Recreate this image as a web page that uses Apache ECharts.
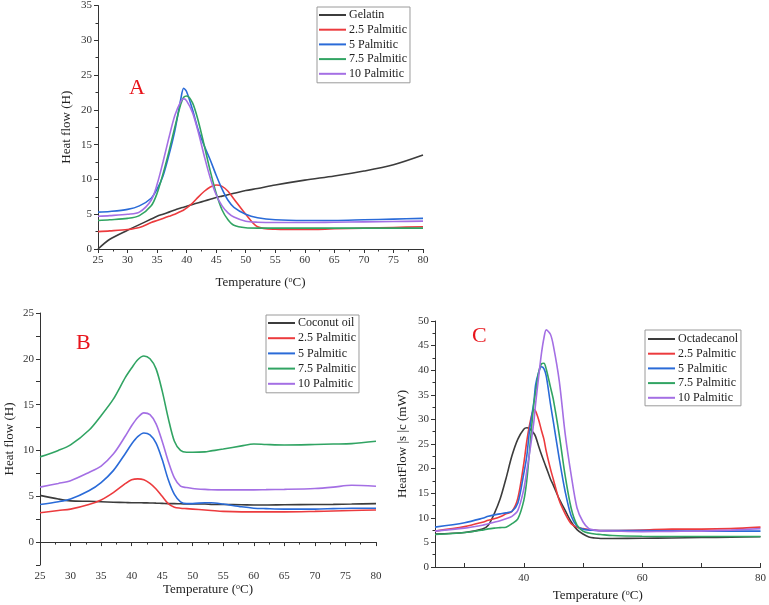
<!DOCTYPE html>
<html>
<head>
<meta charset="utf-8">
<script src="https://cdn.jsdelivr.net/npm/echarts@6/dist/echarts.min.js"></script>
<style>
  html, body { margin: 0; padding: 0; background: #fff; }
  #chart { width: 769px; height: 605px; }
</style>
</head>
<body>
<div id="chart"></div>
<script>
// ---- panel A : gelatin ----
const tA = [25, 27, 30, 32, 34, 35, 36, 37, 38, 39, 39.5, 40, 41, 42, 43, 44, 45, 46, 47, 48, 50, 52, 55, 60, 65, 70, 75, 80];
const gelatinA = [0, 1.4, 2.7, 3.5, 4.3, 4.7, 5.0, 5.3, 5.6, 5.9, 6.0, 6.15, 6.4, 6.65, 6.9, 7.15, 7.4, 7.6, 7.8, 8.0, 8.4, 8.7, 9.2, 9.9, 10.5, 11.2, 12.1, 13.5];
const p25A = [2.5, 2.6, 2.8, 3.1, 3.8, 4.1, 4.4, 4.7, 5.0, 5.4, 5.6, 5.9, 6.6, 7.5, 8.3, 8.9, 9.2, 9.0, 8.3, 7.2, 5.0, 3.2, 2.85, 2.8, 2.9, 3.0, 3.1, 3.2];
const p5A = [5.3, 5.4, 5.7, 6.2, 7.3, 8.6, 10.5, 13.5, 17.0, 21.5, 23.1, 22.6, 20.0, 17.0, 14.8, 12.8, 10.6, 8.6, 7.0, 6.0, 5.0, 4.5, 4.2, 4.1, 4.1, 4.2, 4.3, 4.4];
const p75A = [4.1, 4.2, 4.4, 4.8, 6.2, 8.0, 10.8, 14.0, 17.5, 20.8, 21.8, 22.0, 21.0, 18.3, 14.8, 11.2, 8.0, 5.6, 4.2, 3.4, 3.05, 3.0, 3.0, 3.0, 3.0, 3.0, 3.0, 3.0];
const p10A = [4.7, 4.8, 5.0, 5.3, 7.0, 9.3, 12.5, 16.0, 19.2, 21.2, 21.6, 21.3, 19.6, 16.7, 13.3, 10.2, 7.8, 6.2, 5.2, 4.6, 4.0, 3.85, 3.8, 3.8, 3.85, 3.9, 3.95, 4.0];

// ---- panel B : coconut oil ----
const tB = [25, 28, 30, 33, 35, 37, 39, 40, 41, 42, 43, 44, 45, 46, 47, 48, 49, 50, 52, 53, 55, 58, 60, 62, 65, 70, 73, 76, 80];
const coconutB = [5.1, 4.7, 4.5, 4.45, 4.4, 4.35, 4.32, 4.3, 4.3, 4.28, 4.27, 4.25, 4.23, 4.2, 4.2, 4.18, 4.17, 4.15, 4.15, 4.12, 4.1, 4.08, 4.05, 4.05, 4.08, 4.1, 4.12, 4.15, 4.2];
const p25B = [3.2, 3.45, 3.6, 4.1, 4.6, 5.4, 6.4, 6.8, 6.9, 6.8, 6.4, 5.8, 5.0, 4.2, 3.8, 3.7, 3.65, 3.6, 3.5, 3.45, 3.35, 3.3, 3.3, 3.3, 3.3, 3.35, 3.4, 3.45, 3.5];
const p5B = [4.1, 4.4, 4.7, 5.6, 6.5, 7.8, 9.7, 10.7, 11.5, 11.9, 11.7, 10.8, 9.0, 6.8, 5.2, 4.4, 4.2, 4.2, 4.3, 4.3, 4.15, 3.85, 3.7, 3.65, 3.6, 3.6, 3.65, 3.7, 3.7];
const p75B = [9.3, 10.0, 10.6, 12.2, 13.8, 15.6, 18.0, 19.0, 19.9, 20.3, 20.0, 18.9, 16.5, 13.5, 11.0, 10.0, 9.8, 9.8, 9.85, 9.95, 10.15, 10.5, 10.7, 10.65, 10.6, 10.65, 10.7, 10.75, 11.0];
const p10B = [6.0, 6.4, 6.7, 7.6, 8.3, 9.6, 11.6, 12.7, 13.6, 14.1, 13.9, 12.9, 11.0, 8.8, 7.0, 6.1, 5.95, 5.85, 5.75, 5.72, 5.7, 5.7, 5.7, 5.72, 5.75, 5.85, 6.0, 6.2, 6.1];

// ---- panel C : octadecanol ----
const tC = [25, 30, 33, 34, 35, 36, 37, 38, 39, 40, 40.5, 41, 41.7, 42, 42.5, 43, 43.4, 43.8, 44.5, 45, 46, 47, 48, 49, 50, 51, 52, 53, 55, 60, 65, 70, 75, 80];
const octaC = [6.7, 7.0, 7.7, 8.5, 10.8, 13.8, 18.0, 22.6, 26.0, 28.0, 28.3, 28.1, 27.2, 26.5, 24.6, 22.8, 21.5, 20.2, 17.9, 16.6, 13.8, 11.5, 9.2, 7.6, 6.7, 6.1, 5.9, 5.8, 5.8, 5.85, 5.9, 6.0, 6.05, 6.15];
const p25C = [7.3, 8.2, 9.1, 9.5, 9.8, 10.2, 10.8, 11.3, 14.0, 21.0, 25.5, 29.0, 32.0, 31.7, 30.0, 27.7, 26.0, 23.5, 20.0, 17.8, 13.5, 10.8, 8.8, 8.1, 7.8, 7.6, 7.5, 7.4, 7.4, 7.5, 7.7, 7.7, 7.8, 8.1];
const p5C = [8.1, 9.0, 9.9, 10.3, 10.6, 10.8, 11.0, 11.3, 13.0, 19.0, 22.5, 28.0, 33.5, 37.0, 39.5, 40.7, 40.3, 38.8, 33.2, 29.5, 22.0, 15.3, 10.4, 8.3, 7.7, 7.5, 7.45, 7.4, 7.4, 7.4, 7.35, 7.3, 7.3, 7.3];
const p75C = [6.6, 7.0, 7.5, 7.75, 7.9, 8.0, 8.1, 8.8, 9.8, 13.5, 17.5, 24.0, 33.2, 35.5, 39.5, 41.3, 41.4, 40.2, 36.6, 34.0, 26.8, 18.5, 12.0, 8.5, 7.3, 6.9, 6.7, 6.6, 6.4, 6.25, 6.2, 6.2, 6.2, 6.2];
const p10C = [7.3, 7.9, 8.5, 8.8, 9.1, 9.4, 9.8, 10.3, 11.5, 15.8, 19.5, 23.3, 29.5, 33.2, 38.5, 43.5, 46.5, 48.2, 47.3, 45.0, 37.8, 27.0, 18.8, 12.0, 9.2, 7.8, 7.5, 7.35, 7.3, 7.2, 7.25, 7.3, 7.5, 7.8];

const names = ['2.5 Palmitic', '5 Palmitic', '7.5 Palmitic', '10 Palmitic'];
const colors = {
  'Gelatin': '#3c3c3c', 'Coconut oil': '#3c3c3c', 'Octadecanol': '#3c3c3c',
  '2.5 Palmitic': '#ec3b3e', '5 Palmitic': '#2a6bd8', '7.5 Palmitic': '#31a463', '10 Palmitic': '#a46fe4'
};

const serif = '"Liberation Serif", "Times New Roman", serif';
const ink = '#333';

function line(name, xs, ys, idx) {
  return {
    name: name,
    type: 'line',
    xAxisIndex: idx,
    yAxisIndex: idx,
    data: xs.map((x, i) => [x, ys[i]]),
    symbol: 'none',
    smooth: 0.3,
    lineStyle: { color: colors[name], width: 1.6 },
    itemStyle: { color: colors[name] },
    z: name.indexOf('Palmitic') < 0 ? 1 : 2
  };
}

// shared axis look
function axis(extra) {
  return Object.assign({
    type: 'value',
    axisLine: { show: true, lineStyle: { color: ink, width: 1 } },
    axisTick: { show: true, length: 4, lineStyle: { color: ink } },
    minorTick: { show: true, splitNumber: 2, length: 2.5, lineStyle: { color: ink } },
    splitLine: { show: false },
    axisLabel: { color: ink, fontFamily: serif, fontSize: 11, margin: 6 },
    nameTextStyle: {
      color: '#222', fontFamily: serif, fontSize: 13,
      rich: { sup: { fontFamily: serif, fontSize: 8, padding: [0, 0, 6, 0] } }
    }
  }, extra);
}

const tempName = 'Temperature ({sup|o}C)';

function legend(left, top, pad, gap, items) {
  return {
    left: left, top: top, orient: 'vertical',
    padding: pad, itemGap: gap,
    itemWidth: 27, itemHeight: 2,
    icon: 'rect',
    borderColor: '#9a9a9a', borderWidth: 1,
    textStyle: { fontFamily: serif, fontSize: 12, color: '#222', lineHeight: 14, padding: [0, 0, 0, -2] },
    data: items
  };
}

const chart = echarts.init(document.getElementById('chart'));
chart.setOption({
  animation: false,
  grid: [
    { left: 98, top: 4, right: 346, bottom: 356 },
    { left: 40, top: 313, right: 393, bottom: 40 },
    { left: 435, top: 321, right: 6, bottom: 38 }
  ],
  xAxis: [
    axis({ gridIndex: 0, min: 25, max: 80, interval: 5, name: tempName, nameLocation: 'middle', nameGap: 27 }),
    axis({ gridIndex: 1, min: 25, max: 80, interval: 5, name: tempName, nameLocation: 'middle', nameGap: 17 }),
    axis({
      gridIndex: 2, min: 25, max: 80, name: tempName, nameLocation: 'middle', nameGap: 22,
      axisTick: { show: true, inside: true, length: 4, lineStyle: { color: ink }, customValues: [30, 40, 50, 60, 70, 80] },
      axisLabel: { color: ink, fontFamily: serif, fontSize: 11, margin: 6, customValues: [40, 60, 80] },
      minorTick: { show: false }
    })
  ],
  yAxis: [
    axis({ gridIndex: 0, min: 0, max: 35, interval: 5, name: 'Heat flow (H)', nameLocation: 'middle', nameGap: 25 }),
    axis({
      gridIndex: 1, min: -2.5, max: 25, interval: 2.5, name: 'Heat flow (H)', nameLocation: 'middle', nameGap: 24,
      minorTick: { show: false },
      axisLabel: { color: ink, fontFamily: serif, fontSize: 11, margin: 6, formatter: v => (v % 5 === 0 ? v : '') }
    }),
    axis({ gridIndex: 2, min: 0, max: 50, interval: 5, name: 'HeatFlow |s |c (mW)', nameLocation: 'middle', nameGap: 26 })
  ],
  legend: [
    legend(317, 7, [1, 3, 2, 2], 0.7, ['Gelatin'].concat(names)),
    legend(266, 315, [1, 3, 2, 2], 1.2, ['Coconut oil'].concat(names)),
    legend(645, 330, [2, 3, 1, 3], 0.7, ['Octadecanol'].concat(names))
  ],
  graphic: [
    { type: 'text', left: 129, top: 77, style: { text: 'A', fill: '#e8141b', font: '22px ' + serif } },
    { type: 'text', left: 76, top: 332, style: { text: 'B', fill: '#e8141b', font: '22px ' + serif } },
    { type: 'text', left: 472, top: 325, style: { text: 'C', fill: '#e8141b', font: '22px ' + serif } }
  ],
  series: [
    line('Gelatin', tA, gelatinA, 0),
    line('2.5 Palmitic', tA, p25A, 0),
    line('5 Palmitic', tA, p5A, 0),
    line('7.5 Palmitic', tA, p75A, 0),
    line('10 Palmitic', tA, p10A, 0),
    line('Coconut oil', tB, coconutB, 1),
    line('2.5 Palmitic', tB, p25B, 1),
    line('5 Palmitic', tB, p5B, 1),
    line('7.5 Palmitic', tB, p75B, 1),
    line('10 Palmitic', tB, p10B, 1),
    line('Octadecanol', tC, octaC, 2),
    line('2.5 Palmitic', tC, p25C, 2),
    line('5 Palmitic', tC, p5C, 2),
    line('7.5 Palmitic', tC, p75C, 2),
    line('10 Palmitic', tC, p10C, 2)
  ]
});
</script>
</body>
</html>
